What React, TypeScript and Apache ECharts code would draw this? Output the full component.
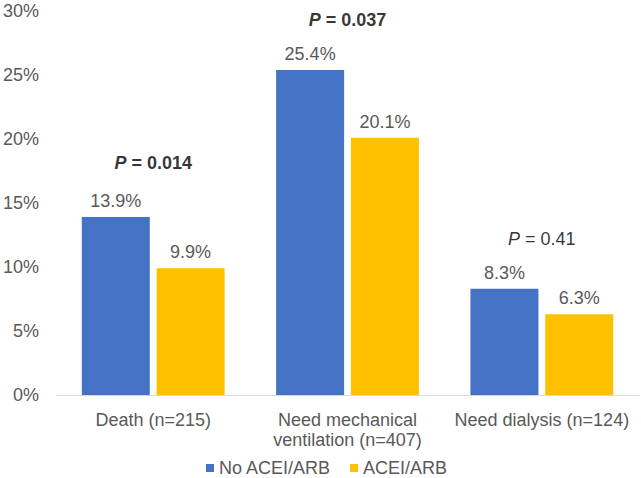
import React, { useEffect, useRef } from "react";
import * as echarts from "echarts";

const categories = ["Death (n=215)", "Need mechanical\nventilation (n=407)", "Need dialysis (n=124)"];
const noAceiArb = [13.9, 25.4, 8.3];
const aceiArb = [9.9, 20.1, 6.3];
const pValues = ["0.014", "0.037", "0.41"];
const pSignificant = [true, true, false];
const yTicks = { min: 0, max: 30, interval: 5 };

const FONT = "'Liberation Sans', Arial, sans-serif";

export default function App() {
  const ref = useRef<HTMLDivElement>(null);
  useEffect(() => {
    if (!ref.current) return;
    const chart = echarts.init(ref.current, null, { renderer: "svg" });
    const pData = categories.map((c, i) => ({
      value: Math.max(noAceiArb[i], aceiArb[i]),
      label: {
        distance: i === 0 ? 45 : 41,
        formatter: pSignificant[i]
          ? `{ib|P}{b| = ${pValues[i]}}`
          : `{ir|P}{r| = ${pValues[i]}}`,
      },
    }));
    chart.setOption({
      animation: false,
      textStyle: { fontFamily: FONT },
      grid: { left: 53, right: 2, top: 11, bottom: 83 },
      legend: {
        data: ["No ACEI/ARB", "ACEI/ARB"],
        left: 201,
        top: 454,
        icon: "rect",
        itemWidth: 8,
        itemHeight: 8,
        itemGap: 19,
        textStyle: { fontSize: 18, lineHeight: 18, color: "#595959", fontFamily: FONT },
      },
      xAxis: [
        {
          type: "category",
          data: categories,
          axisLine: { show: true, lineStyle: { color: "#d9d9d9", width: 1 } },
          axisTick: { show: false },
          axisLabel: {
            color: "#595959",
            fontSize: 18,
            fontFamily: FONT,
            margin: 15,
            lineHeight: 20,
            interval: 0,
          },
        },
        {
          type: "category",
          data: categories,
          show: false,
        },
      ],
      yAxis: {
        type: "value",
        min: yTicks.min,
        max: yTicks.max,
        interval: yTicks.interval,
        axisLine: { show: false },
        axisTick: { show: false },
        splitLine: { show: false },
        axisLabel: {
          formatter: "{value}%",
          color: "#595959",
          fontSize: 18,
          fontFamily: FONT,
          margin: 17,
        },
      },
      series: [
        {
          name: "No ACEI/ARB",
          type: "bar",
          data: noAceiArb,
          barWidth: 68,
          barGap: "10%",
          itemStyle: { color: "#4472C4" },
          label: {
            show: true,
            position: "top",
            distance: 7,
            formatter: "{c}%",
            color: "#595959",
            fontSize: 18,
            fontFamily: FONT,
          },
        },
        {
          name: "ACEI/ARB",
          type: "bar",
          data: aceiArb,
          barWidth: 68,
          barGap: "10%",
          itemStyle: { color: "#FFC000" },
          label: {
            show: true,
            position: "top",
            distance: 7,
            formatter: "{c}%",
            color: "#595959",
            fontSize: 18,
            fontFamily: FONT,
          },
        },
        {
          name: "P",
          type: "scatter",
          xAxisIndex: 1,
          data: pData,
          symbolSize: 0,
          silent: true,
          label: {
            show: true,
            position: "top",
            rich: {
              ib: { fontStyle: "italic", fontWeight: "bold", fontSize: 18, color: "#000", fontFamily: FONT },
              b: { fontWeight: "bold", fontSize: 18, color: "#000", fontFamily: FONT },
              ir: { fontStyle: "italic", fontSize: 18, color: "#000", fontFamily: FONT },
              r: { fontSize: 18, color: "#000", fontFamily: FONT },
            },
          },
        },
      ],
    });
    return () => chart.dispose();
  }, []);
  return <div ref={ref} style={{ width: 641, height: 478, position: "absolute", left: 0, top: 0 }} />;
}
